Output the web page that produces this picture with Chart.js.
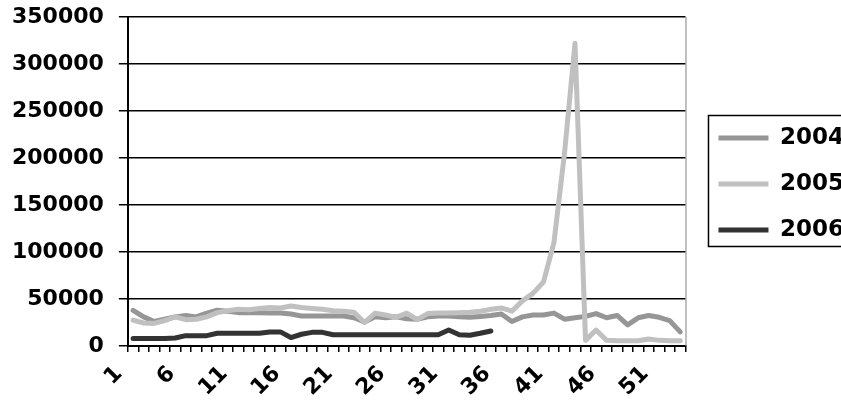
<!DOCTYPE html>
<html>
<head>
<meta charset="utf-8">
<script src="https://cdn.jsdelivr.net/npm/chart.js@4.4.1/dist/chart.umd.min.js"></script>
<style>
  html, body { margin: 0; padding: 0; background: #fff; overflow: hidden; }
  #wrap { width: 841px; height: 413px; overflow: hidden; }
  canvas { display: block; }
</style>
</head>
<body>
<div id="wrap"><canvas id="chart" width="870" height="413"></canvas></div>
<script>
// týdny 1..53
const weeks = [1, 2, 3, 4, 5, 6, 7, 8, 9, 10, 11, 12, 13, 14, 15, 16, 17, 18, 19, 20,
  21, 22, 23, 24, 25, 26, 27, 28, 29, 30, 31, 32, 33, 34, 35, 36, 37, 38, 39, 40,
  41, 42, 43, 44, 45, 46, 47, 48, 49, 50, 51, 52, 53];
const tickLabels = [1, 6, 11, 16, 21, 26, 31, 36, 41, 46, 51];

const y2004 = [38000, 31000, 26000, 28500, 31000, 32500, 31000, 35000, 38000, 37000,
  35500, 35500, 35500, 35000, 35000, 34000, 32000, 32000, 32000, 32000,
  32000, 30000, 25500, 31000, 30000, 31000, 29000, 28500, 31000, 32000,
  32000, 31000, 30500, 31500, 32500, 34000, 26000, 31000, 33000, 33000,
  35000, 28500, 30000, 31500, 34500, 30000, 32500, 22500, 30000, 32500,
  30500, 27000, 15000];
const y2005 = [27500, 24500, 24000, 27000, 31000, 28000, 28500, 31000, 35500, 37500,
  39000, 38500, 40000, 41000, 40500, 42500, 41000, 40000, 39000, 37500,
  37000, 36000, 25000, 35000, 33000, 30500, 35000, 28000, 34500, 35000,
  35000, 35500, 36000, 37000, 39000, 40500, 37000, 48000, 56000, 68000,
  110000, 205000, 322000, 6000, 17000, 6000, 5500, 5500, 5500, 7500,
  6000, 5500, 5500];
const y2006 = [8000, 8000, 8000, 8000, 8500, 11000, 11000, 11000, 13500, 13500,
  13500, 13500, 13500, 15000, 15000, 9000, 12500, 14500, 14500, 12000,
  12000, 12000, 12000, 12000, 12000, 12000, 12000, 12000, 12000, 12000,
  17000, 12000, 11500, 13500, 16000];

const seriesNames = ["2004", "2005", "2006"];
const seriesColors = ["#969696", "#c0c0c0", "#333333"];

const font = { family: "'DejaVu Sans', sans-serif", size: 22, weight: "bold" };
const legendFont = { family: "'DejaVu Sans', sans-serif", size: 23, weight: "bold" };

// ramecek legendy a sedy pravy okraj plochy grafu
const framePlugin = {
  id: "frame",
  afterLayout(chart) {
    const lg = chart.legend;
    lg.left += 10;
    lg.right += 10;
    lg.top -= 31;
    lg.bottom -= 31;
  },
  afterDraw(chart) {
    const { ctx, chartArea, legend } = chart;
    ctx.save();
    ctx.strokeStyle = "#808080";
    ctx.lineWidth = 1;
    ctx.beginPath();
    ctx.moveTo(chartArea.right + 0.5, chartArea.top);
    ctx.lineTo(chartArea.right + 0.5, chartArea.bottom);
    ctx.stroke();

    const boxes = legend.legendHitBoxes;
    if (boxes && boxes.length) {
      const first = boxes[0];
      const last = boxes[boxes.length - 1];
      ctx.strokeStyle = "#000";
      ctx.lineWidth = 1.5;
      const top = first.top - 11;
      const bottom = last.top + last.height + 5;
      ctx.strokeRect(first.left - 10, top, chart.width, bottom - top);
    }
    ctx.restore();
  }
};

const values = [y2004, y2005, y2006];
const datasets = values.map((data, i) => ({
  label: seriesNames[i],
  data: data,
  borderColor: seriesColors[i],
  backgroundColor: seriesColors[i],
  borderWidth: 5,
  borderCapStyle: "round",
  borderJoinStyle: "round",
  pointRadius: 0,
  tension: 0,
  fill: false,
  order: 3 - i,
}));

new Chart(document.getElementById("chart").getContext("2d"), {
  type: "line",
  data: { labels: weeks, datasets },
  plugins: [framePlugin],
  options: {
    responsive: false,
    animation: false,
    devicePixelRatio: 1,
    layout: { padding: { left: -3, right: 26, top: 17, bottom: 0 } },
    plugins: {
      tooltip: { enabled: false },
      legend: {
        position: "right",
        labels: {
          usePointStyle: true,
          pointStyle: "line",
          pointStyleWidth: 50,
          padding: 23,
          color: "#000",
          font: legendFont,
          sort: (a, b) => a.datasetIndex - b.datasetIndex,
        },
      },
    },
    scales: {
      x: {
        offset: true,
        afterFit: (scale) => { scale.height = 67; },
        grid: {
          offset: true,
          drawOnChartArea: false,
          color: "#000",
          lineWidth: 1.5,
          tickLength: 6,
        },
        border: { color: "#000", width: 2 },
        ticks: {
          autoSkip: false,
          minRotation: 45,
          maxRotation: 45,
          padding: 9,
          labelOffset: -14,
          color: "#000",
          font: font,
          callback: (v, i) => (tickLabels.includes(weeks[i]) ? String(weeks[i]) : ""),
        },
      },
      y: {
        min: 0,
        max: 350000,
        afterFit: (scale) => { scale.paddingTop = 0; scale.paddingBottom = 0; },
        ticks: {
          stepSize: 50000,
          padding: 15,
          color: "#000",
          font: font,
          callback: (v) => String(v),
        },
        grid: { color: "#000", lineWidth: 1.5, tickLength: 9 },
        border: { color: "#000", width: 2 },
      },
    },
  },
});
</script>
</body>
</html>
